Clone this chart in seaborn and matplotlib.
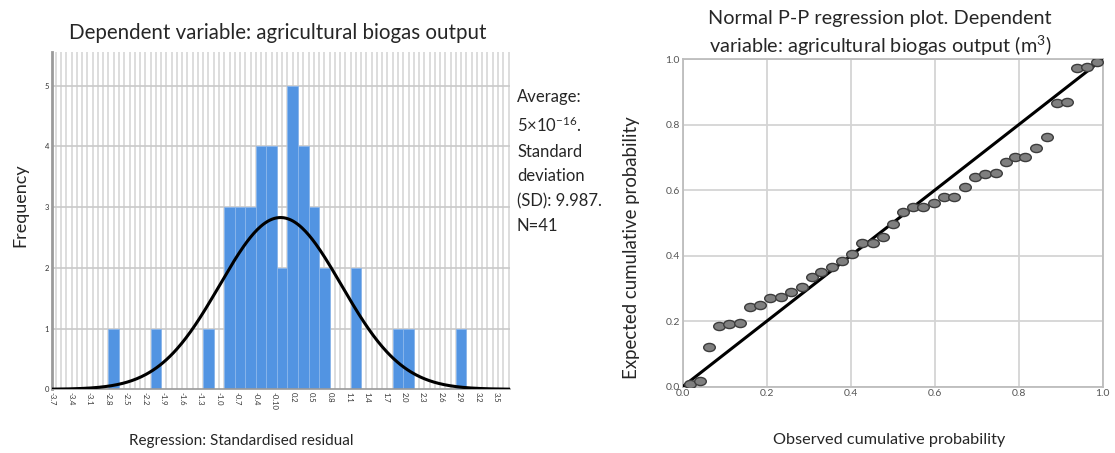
import numpy as np
import matplotlib
matplotlib.use('Agg')
import matplotlib.pyplot as plt
from matplotlib.path import Path
from matplotlib.transforms import Affine2D
import seaborn as sns

# ---- data ----
# histogram of standardised residuals (bin centres and counts)
resid_bin_centres = [-2.705, -2.022, -1.169, -0.827, -0.657, -0.486, -0.315, -0.145,
                     0.026, 0.197, 0.368, 0.538, 0.709, 1.221, 1.904, 2.075, 2.928]
resid_counts = [1, 1, 1, 3, 3, 3, 4, 4, 2, 5, 4, 3, 2, 2, 1, 1, 1]
bin_width = 0.1707
bin_start = -2.79

x_tick_values = [-3.7, -3.4, -3.1, -2.8, -2.5, -2.2, -1.9, -1.6, -1.3, -1.0, -0.7, -0.4,
                 -0.1, 0.2, 0.5, 0.8, 1.1, 1.4, 1.7, 2.0, 2.3, 2.6, 2.9, 3.2, 3.5]
x_tick_labels = ['-3.7', '-3.4', '-3.1', '-2.8', '-2.5', '-2.2', '-1.9', '-1.6', '-1.3', '-1.0',
                 '-0.7', '-0.4', '-0.10', '0.2', '0.5', '0.8', '1.1', '1.4', '1.7', '2.0',
                 '2.3', '2.6', '2.9', '3.2', '3.5']

resid_mean = 0.0
resid_sd = 0.987
n_obs = 41

# normal P-P plot
observed_cum = [0.017, 0.040, 0.063, 0.087, 0.111, 0.136, 0.160, 0.183, 0.207, 0.233,
                0.259, 0.283, 0.307, 0.330, 0.356, 0.380, 0.404, 0.428, 0.453, 0.477,
                0.501, 0.524, 0.548, 0.573, 0.598, 0.623, 0.647, 0.671, 0.696, 0.720,
                0.745, 0.769, 0.792, 0.816, 0.841, 0.867, 0.890, 0.915, 0.939, 0.962,
                0.987]
expected_cum = [0.007, 0.018, 0.122, 0.185, 0.191, 0.193, 0.242, 0.248, 0.270, 0.273,
                0.290, 0.303, 0.336, 0.351, 0.364, 0.384, 0.404, 0.438, 0.440, 0.457,
                0.497, 0.532, 0.550, 0.550, 0.560, 0.580, 0.580, 0.611, 0.641, 0.649,
                0.654, 0.687, 0.702, 0.702, 0.728, 0.763, 0.867, 0.869, 0.974, 0.977,
                0.992]
diag_line = [0.0, 1.0]

# ---- style ----
sns.set_style('white')
plt.rcParams['font.family'] = ['Lato', 'DejaVu Sans']
plt.rcParams['mathtext.fontset'] = 'custom'
plt.rcParams['mathtext.rm'] = 'Lato'
plt.rcParams['mathtext.it'] = 'Lato:italic'

W, H = 1115, 453
fig = plt.figure(figsize=(W / 100, H / 100), dpi=100)


def px_axes(x0, y0, x1, y1):
    # pixel box (top-left origin) -> figure axes
    return fig.add_axes([x0 / W, 1 - y1 / H, (x1 - x0) / W, (y1 - y0) / H])


def px_text(x, y, s, **kw):
    return fig.text(x / W, 1 - y / H, s, **kw)


# ---------------- left: histogram ----------------
ax1 = px_axes(51.7, 51.7, 510, 389.3)
x_lo, x_hi = -3.71, 3.72

# fine vertical grid (half a bin apart) and horizontal grid
vgrid = np.arange(bin_start - 40 * bin_width / 2, x_hi, bin_width / 2)
for v in vgrid:
    ax1.axvline(v, color='#dadada', lw=1.3, zorder=0)
for h in range(1, 6):
    ax1.axhline(h, color='#c9c9c9', lw=1.2, zorder=0)

sns.histplot(x=resid_bin_centres, weights=resid_counts, binwidth=bin_width,
             binrange=(bin_start, bin_start + 34 * bin_width), ax=ax1,
             color='#5294e2', alpha=1, edgecolor='#8ab6ec', linewidth=0.6, zorder=2)

xs = np.linspace(x_lo, x_hi, 400)
curve = n_obs * bin_width * np.exp(-0.5 * ((xs - resid_mean) / resid_sd) ** 2) / (resid_sd * np.sqrt(2 * np.pi))
sns.lineplot(x=xs, y=curve, ax=ax1, color='black', lw=2.2, zorder=3)

ax1.set_xlim(x_lo, x_hi)
ax1.set_ylim(0, 5.56)
ax1.set_xticks(x_tick_values)
ax1.set_xticklabels(x_tick_labels, rotation=270, fontsize=5.5, color='#333333')
ax1.set_yticks(range(0, 6))
ax1.set_yticklabels([str(i) for i in range(6)], fontsize=5.5, color='#333333')
ax1.tick_params(length=0, pad=2)
for s in ['top', 'right']:
    ax1.spines[s].set_visible(False)
ax1.spines['left'].set_color('#9a9a9a')
ax1.spines['left'].set_linewidth(2)
ax1.spines['bottom'].set_color('#9a9a9a')
ax1.spines['bottom'].set_linewidth(1.2)
ax1.set_xlabel('')
ax1.set_ylabel('')

px_text(277.5, 33, 'Dependent variable: agricultural biogas output', fontsize=14.8,
        ha='center', va='center')
px_text(20, 205, 'Frequency', fontsize=13, rotation=90, ha='center', va='center')
px_text(241, 441, 'Regression: Standardised residual', fontsize=11,
        ha='center', va='center')
px_text(517, 89, 'Average:\n5×10$^{-16}$.\nStandard\ndeviation\n(SD): 9.987.\nN=41',
        fontsize=12, ha='left', va='top', linespacing=1.66)

# ---------------- right: P-P plot ----------------
ax2 = px_axes(682.7, 59.2, 1102.7, 386.7)
ellipse = Path.unit_circle().transformed(Affine2D().scale(1.0, 0.7))

sns.lineplot(x=diag_line, y=diag_line, ax=ax2, color='black', lw=2.2, zorder=3)
sns.scatterplot(x=observed_cum, y=expected_cum, ax=ax2, marker=ellipse, s=70,
                color='#7f7f7f', edgecolor='#3c3c3c', linewidth=1.0, zorder=4)

ax2.set_xlim(0, 1)
ax2.set_ylim(0, 1)
ticks = [0.0, 0.2, 0.4, 0.6, 0.8, 1.0]
ax2.set_xticks(ticks)
ax2.set_yticks(ticks)
ax2.set_xticklabels(['0.0', '0.2', '0.4', '0.6', '0.8', '1.0'], fontsize=7.5, color='#555555')
ax2.set_yticklabels(['0.0', '0.2', '0.4', '0.6', '0.8', '1.0'], fontsize=7.5, color='#555555')
ax2.tick_params(length=0, pad=2)
ax2.grid(True, color='#d4d4d4', lw=1.3)
ax2.set_axisbelow(True)
for s in ax2.spines.values():
    s.set_color('#bdbdbd')
    s.set_linewidth(1.3)
ax2.set_xlabel('')
ax2.set_ylabel('')

px_text(880, 34, 'Normal P-P regression plot. Dependent\nvariable: agricultural biogas output (m$^3$)',
        fontsize=14.3, ha='center', va='center', linespacing=1.4)
px_text(889, 440, 'Observed cumulative probability', fontsize=11.7, ha='center', va='center')
px_text(632, 248, 'Expected cumulative probability', fontsize=13.4, rotation=90,
        ha='center', va='center')

fig.savefig('out.png', dpi=100, facecolor='white')
